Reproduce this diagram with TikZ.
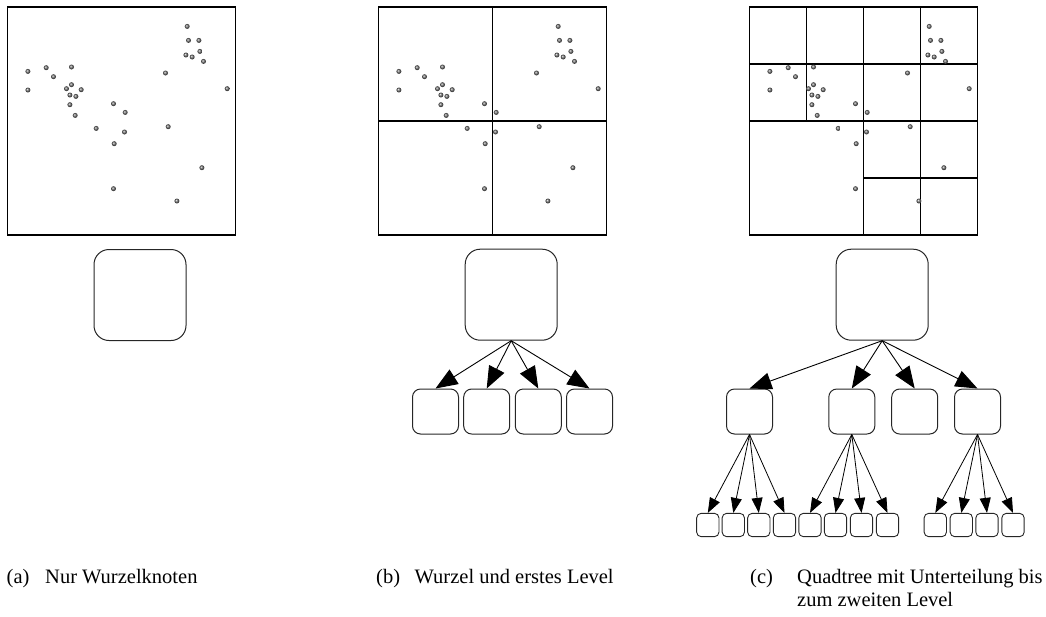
\documentclass[tikz,border=0pt]{standalone}
\usepackage{fontspec}
\setmainfont{Liberation Serif}
\usetikzlibrary{arrows.meta}

\tikzset{
  frame/.style={draw=black, line width=1.2pt},
  gridline/.style={draw=black, line width=1.1pt},
  bigbox/.style={draw=black!85, line width=1pt, rounded corners=15pt,
    minimum width=92pt, minimum height=91pt, inner sep=0pt},
  midbox/.style={draw=black!85, line width=1pt, rounded corners=8pt,
    minimum width=46pt, minimum height=45pt, inner sep=0pt},
  smallbox/.style={draw=black!85, line width=0.9pt, rounded corners=4.5pt,
    minimum width=22.3pt, minimum height=23.3pt, inner sep=0pt},
  bigarrow/.style={draw=black, line width=0.9pt, -{Triangle[length=22pt,width=17pt]}},
  smallarrow/.style={draw=black, line width=0.8pt, -{Triangle[length=15pt,width=11pt]}},
  pt/.style={ball color=gray!85!black},
  captext/.style={inner sep=0pt, anchor=base west, font=\fontsize{20.5}{23.5}\selectfont},
}

% point set, relative to the upper left corner of a frame
\newcommand{\pointset}{%
  \foreach \px/\py in {179.7/19.4, 181/33.4, 191.4/33.4, 192.4/44.4, 178.4/48,
      184.7/50, 196/54.4, 158/66, 219.7/81.7, 20.4/64.4, 38.7/60.7, 64/60,
      46/69.7, 20.4/83, 64/77.7, 59/81.7, 73.7/82.7, 62.4/88, 68.4/89.4,
      62.4/97.7, 67.7/108.4, 106/96.7, 117.7/105.4, 88.7/121.4, 160.7/119.7,
      117/125, 106.7/136.7, 194.4/160.7, 106/181.7, 169.4/194}
    {\shade[pt] (\px,\py) circle (2.5);}%
}

\begin{document}
\begin{tikzpicture}[x=1pt, y=-1pt]
\useasboundingbox (0,0) rectangle (1046,616);

% ---------- (a) root only ----------
\draw[frame] (7.5,7) rectangle (235.5,235);
\begin{scope}[shift={(7.5,7)}]\pointset\end{scope}
\node[bigbox] (ar) at (140,295) {};

% ---------- (b) root and first level ----------
\draw[frame] (378.5,7) rectangle (606.5,235);
\draw[gridline] (492.5,7) -- (492.5,235);
\draw[gridline] (378.5,121) -- (606.5,121);
\begin{scope}[shift={(378.5,7)}]\pointset\end{scope}
\node[bigbox] (br) at (511.2,294.7) {};
\node[midbox] (b1) at (435.5,411.5) {};
\node[midbox] (b2) at (486.7,411.5) {};
\node[midbox] (b3) at (538.3,411.5) {};
\node[midbox] (b4) at (589.5,411.5) {};
\foreach \c in {b1,b2,b3,b4} \draw[bigarrow] (br.south) -- (\c.north);

% ---------- (c) quadtree down to the second level ----------
\draw[frame] (749.5,7) rectangle (977.5,235);
\draw[gridline] (806.5,7) -- (806.5,121);
\draw[gridline] (863.5,7) -- (863.5,235);
\draw[gridline] (920.5,7) -- (920.5,235);
\draw[gridline] (749.5,64) -- (977.5,64);
\draw[gridline] (749.5,121) -- (977.5,121);
\draw[gridline] (863.5,178) -- (977.5,178);
\begin{scope}[shift={(749.5,7)}]\pointset\end{scope}

\node[bigbox] (cr) at (882.2,294.7) {};
\node[midbox] (c1) at (749.5,411.5) {};
\node[midbox] (c2) at (851.8,411.5) {};
\node[midbox] (c3) at (914.7,411.5) {};
\node[midbox] (c4) at (977.5,411.5) {};
\foreach \c in {c1,c2,c3,c4} \draw[bigarrow] (cr.south) -- (\c.north);

\foreach \i/\x in {1/707.8, 2/733.3, 3/758.8, 4/784.5}
  {\node[smallbox] (c1\i) at (\x,525) {}; \draw[smallarrow] (c1.south) -- (c1\i.north);}
\foreach \i/\x in {1/810, 2/835.5, 3/861.5, 4/887.5}
  {\node[smallbox] (c2\i) at (\x,525) {}; \draw[smallarrow] (c2.south) -- (c2\i.north);}
\foreach \i/\x in {1/935.3, 2/961.3, 3/987, 4/1013}
  {\node[smallbox] (c4\i) at (\x,525) {}; \draw[smallarrow] (c4.south) -- (c4\i.north);}

% ---------- captions ----------
\node[captext] (la) at (6.5,583) {(a)};
\node[captext] (ta) at (45,583) {Nur Wurzelknoten};
\node[captext] (lb) at (376,583) {(b)};
\node[captext] (tb) at (414.5,583) {Wurzel und erstes Level};
\node[captext] (lc) at (750,583) {(c)};
\node[captext] (tc1) at (797,583) {Quadtree mit Unterteilung bis};
\node[captext] (tc2) at (797,606.5) {zum zweiten Level};
\end{tikzpicture}
\end{document}
